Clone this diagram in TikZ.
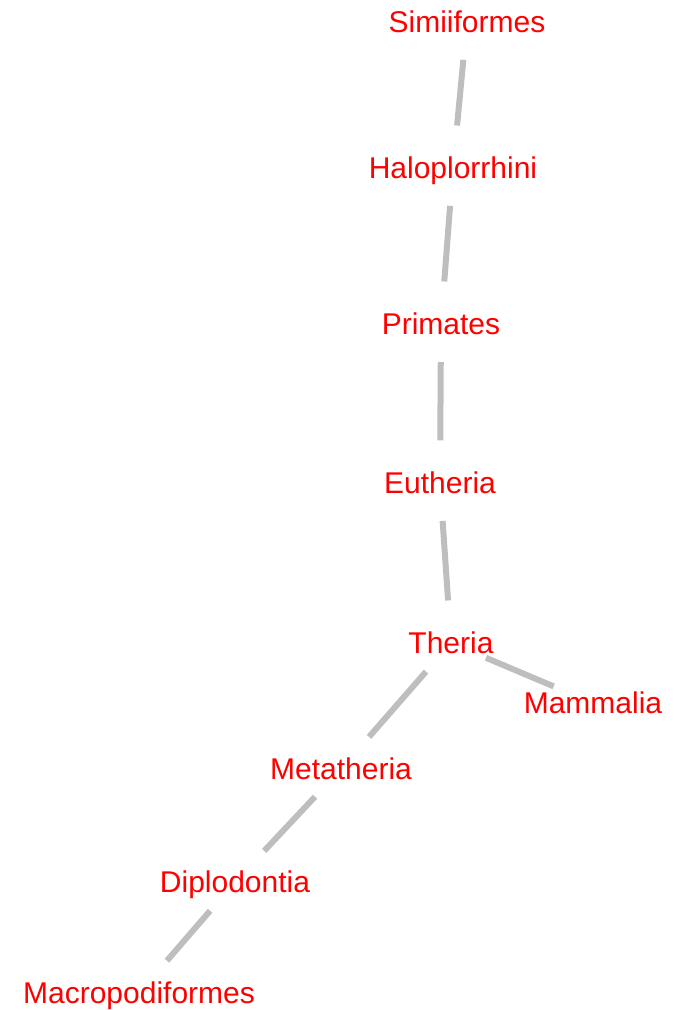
\documentclass[tikz,border=0pt]{standalone}
\usepackage{fontspec}
\setmainfont{Liberation Sans}
\usepackage{tikz}
\definecolor{taxred}{RGB}{255,0,0}
\definecolor{liengris}{RGB}{190,190,190}
\tikzstyle{taxon} = [text=taxred, font=\fontsize{22.5}{27}\selectfont, inner sep=0pt, text height=16pt, text depth=0pt]
\tikzstyle{lien} = [draw=liengris, line width=4.5pt, shorten <=28.5pt, shorten >=32pt]

\begin{document}
\begin{tikzpicture}[x=0.75pt, y=-0.75pt]
    \useasboundingbox (0,0) rectangle (674,1010);
    \node (simiiformes) [taxon] at (467,22) {Simiiformes};
    \node (haloplorrhini) [taxon] at (453,168) {Haloplorrhini};
    \node (primates) [taxon] at (441,324) {Primates};
    \node (eutheria) [taxon] at (440,483) {Eutheria};
    \node (theria) [taxon] at (451,643) {Theria};
    \node (mammalia) [taxon] at (593,703) {Mammalia};
    \node (metatheria) [taxon] at (341,769) {Metatheria};
    \node (diplodontia) [taxon] at (235,882) {Diplodontia};
    \node (macropodiformes) [taxon] at (139,993) {Macropodiformes};

    \draw[lien] (simiiformes.center) -- (haloplorrhini.center);
    \draw[lien] (haloplorrhini.center) -- (primates.center);
    \draw[lien] (primates.center) -- (eutheria.center);
    \draw[lien] (eutheria.center) -- (theria.center);
    \draw[lien] (theria.center) -- (mammalia.center);
    \draw[lien] (theria.center) -- (metatheria.center);
    \draw[lien] (metatheria.center) -- (diplodontia.center);
    \draw[lien] (diplodontia.center) -- (macropodiformes.center);
\end{tikzpicture}
\end{document}
